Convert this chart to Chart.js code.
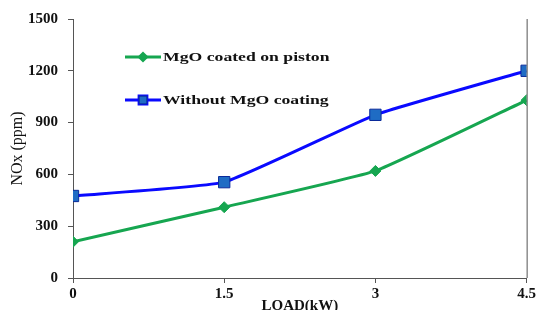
<!DOCTYPE html>
<html>
<head>
<meta charset="utf-8">
<script src="https://cdn.jsdelivr.net/npm/chart.js@4"></script>
<style>
  html,body{margin:0;padding:0;background:#fff}
  #wrap{width:538px;height:310px;position:relative}
</style>
</head>
<body>
<div id="wrap"><canvas id="noxChart" width="538" height="310"></canvas></div>
<script>
const loads = [0, 1.5, 3, 4.5];
const coated = [210, 410, 620, 1030];
const uncoated = [475, 555, 945, 1200];
const xTicks = [0, 1.5, 3, 4.5];
const yTicks = [0, 300, 600, 900, 1200, 1500];

const serif = "'Liberation Serif', 'Times New Roman', serif";
const green = '#16a650';
const blue = '#0a0aff';

// legend sits inside the plot, and the frame has a right edge
const insideLegend = {
  id: 'insideLegend',
  afterDraw(chart){
    const ctx = chart.ctx;
    const a = chart.chartArea;
    ctx.save();
    ctx.strokeStyle = '#555';
    ctx.lineWidth = 1;
    ctx.beginPath();
    ctx.moveTo(a.right + 0.5, a.top);
    ctx.lineTo(a.right + 0.5, a.bottom);
    ctx.stroke();

    const rows = [
      {y:57, text:'MgO coated on piston', ds:chart.data.datasets[0], r:3.5},
      {y:100, text:'Without MgO coating', ds:chart.data.datasets[1], r:5.5}
    ];
    rows.forEach(r=>{
      ctx.strokeStyle = r.ds.borderColor;
      ctx.lineWidth = 3;
      ctx.beginPath();
      ctx.moveTo(125, r.y);
      ctx.lineTo(161, r.y);
      ctx.stroke();
      Chart.helpers.drawPoint(ctx, {pointStyle:r.ds.pointStyle, radius:r.r, borderWidth:1}, 143, r.y);
      ctx.fillStyle = r.ds.pointBackgroundColor;
      ctx.strokeStyle = r.ds.pointBorderColor;
      ctx.lineWidth = 1;
      ctx.fill();
      ctx.stroke();
      ctx.save();
      ctx.translate(163, r.y);
      ctx.scale(1.36, 1);
      ctx.fillStyle = '#111';
      ctx.font = 'bold 13px ' + serif;
      ctx.textBaseline = 'middle';
      ctx.fillText(r.text, 0, 1);
      ctx.restore();
    });
    ctx.restore();
  }
};

new Chart(document.getElementById('noxChart'), {
  type: 'line',
  data: {
    datasets: [
      {label:'MgO coated on piston', data:loads.map((x,i)=>({x:x, y:coated[i]})),
       borderColor:green, borderWidth:3, pointStyle:'rectRot', pointRadius:5.5,
       pointBackgroundColor:green, pointBorderColor:green, pointBorderWidth:1, tension:0.12},
      {label:'Without MgO coating', data:loads.map((x,i)=>({x:x, y:uncoated[i]})),
       borderColor:blue, borderWidth:3, pointStyle:'rect', pointRadius:8,
       pointBackgroundColor:'#1f6cc4', pointBorderColor:'#0a2a9a', pointBorderWidth:1, tension:0.12}
    ]
  },
  options: {
    responsive:false, animation:false,
    layout:{padding:{top:16, right:11, left:0, bottom:0}},
    plugins:{legend:{display:false}, tooltip:{enabled:false}},
    scales:{
      x:{
        type:'linear', min:0, max:4.5,
        afterBuildTicks(s){ s.ticks = xTicks.map(v=>({value:v})); },
        afterFit(s){ s.height = 32; },
        grid:{display:true, drawOnChartArea:false, tickLength:5, color:'#555'},
        border:{color:'#555'},
        ticks:{color:'#111', padding:2, maxRotation:0, font:{family:serif, size:15, weight:'bold'}},
        title:{display:true, text:'LOAD(kW)', color:'#111', padding:{top:0, bottom:-5}, font:{family:serif, size:15, weight:'bold'}}
      },
      y:{
        min:0, max:1500,
        afterBuildTicks(s){ s.ticks = yTicks.map(v=>({value:v})); },
        afterFit(s){ s.width = 73; },
        grid:{display:true, drawOnChartArea:false, tickLength:5, color:'#555'},
        border:{color:'#555'},
        ticks:{color:'#111', padding:10, callback:v=>String(v), font:{family:serif, size:15, weight:'bold'}},
        title:{display:true, text:'NOx (ppm)', color:'#111', padding:{top:8, bottom:0}, font:{family:serif, size:16}}
      }
    }
  },
  plugins:[insideLegend]
});
</script>
</body>
</html>
